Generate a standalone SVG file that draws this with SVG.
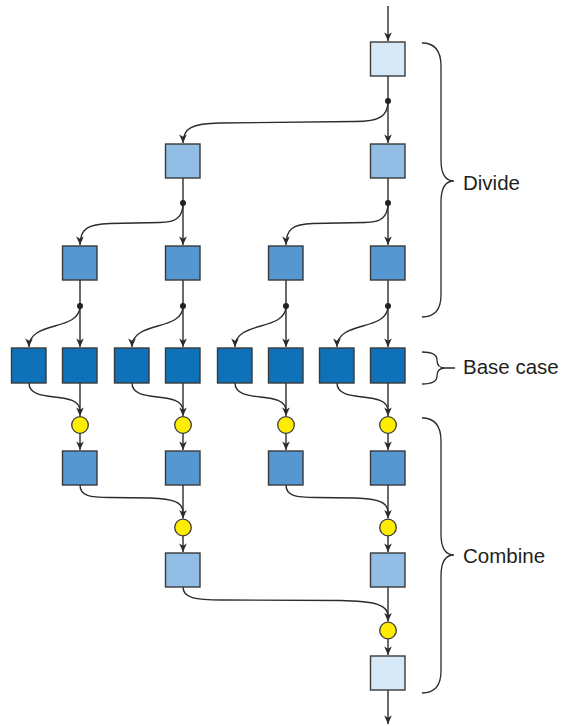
<svg xmlns="http://www.w3.org/2000/svg" width="562" height="726" viewBox="0 0 562 726">
<defs>
<marker id="ah" viewBox="-10 -5 11 10" refX="0" refY="0" markerWidth="11" markerHeight="10" markerUnits="userSpaceOnUse" orient="auto">
<path d="M0,0 L-8.5,-3.8 L-6.3,0 L-8.5,3.8 Z" fill="#2b2b2b"/>
</marker>
<style>
.box{stroke:#3a3a3a;stroke-width:1.4}
.l0{fill:#D7E8F6}
.l1{fill:#92BDE4}
.l2{fill:#5597D1}
.l3{fill:#0F72B9}
.join{fill:#FFED00;stroke:#3a3a3a;stroke-width:1.3}
.dot{fill:#222}
.c{fill:none;stroke:#2b2b2b;stroke-width:1.4}
.a{marker-end:url(#ah)}
.brace{fill:none;stroke:#2b2b2b;stroke-width:1.3}
.lbl{font-family:"Liberation Sans",Arial,sans-serif;font-size:20.5px;fill:#231f20}
</style>
</defs>
<rect width="562" height="726" fill="#fff"/>

<g id="connectors">
<path class="c a" d="M388,6 L388,41"/>
<path class="c a" d="M388,76 L388,143"/>
<path class="c a" d="M388,101 C388,116 380,121.5 355,121.5 L220,123 C192,123.5 183,128 183,143"/>
<path class="c a" d="M183,178 L183,245"/>
<path class="c a" d="M183,203 C183,217 176,222.5 160,222.5 L110,223.5 C88,224 80,229 80,245"/>
<path class="c a" d="M388,178 L388,245"/>
<path class="c a" d="M388,203 C388,217 381,222.5 365,222.5 L313,223.5 C293,224 286,229 286,245"/>
<path class="c a" d="M80,280 L80,347"/>
<path class="c a" d="M80,306 C80,332 29,320 29,347"/>
<path class="c a" d="M183,280 L183,347"/>
<path class="c a" d="M183,306 C183,332 132,320 132,347"/>
<path class="c a" d="M286,280 L286,347"/>
<path class="c a" d="M286,306 C286,332 235,320 235,347"/>
<path class="c a" d="M388,280 L388,347"/>
<path class="c a" d="M388,306 C388,332 337,320 337,347"/>
<path class="c a" d="M80,383 L80,416"/>
<path class="c" d="M29,383 C29,405 80,389 80,411"/>
<path class="c a" d="M183,383 L183,416"/>
<path class="c" d="M132,383 C132,405 183,389 183,411"/>
<path class="c a" d="M286,383 L286,416"/>
<path class="c" d="M235,383 C235,405 286,389 286,411"/>
<path class="c a" d="M388,383 L388,416"/>
<path class="c" d="M337,383 C337,405 388,389 388,411"/>
<path class="c a" d="M80,433.5 L80,450"/>
<path class="c a" d="M183,433.5 L183,450"/>
<path class="c a" d="M286,433.5 L286,450"/>
<path class="c a" d="M388,433.5 L388,450"/>
<path class="c a" d="M183,485 L183,518.5"/>
<path class="c" d="M80,485 C80,496 90,497.5 110,497.5 L150,498 C175,498.5 183,503 183,513"/>
<path class="c a" d="M388,485 L388,518.5"/>
<path class="c" d="M286,485 C286,496 296,497.5 316,497.5 L355,498 C380,498.5 388,503 388,513"/>
<path class="c a" d="M183,536 L183,552"/>
<path class="c a" d="M388,536 L388,552"/>
<path class="c a" d="M388,587 L388,621.5"/>
<path class="c" d="M183,587 C183,598 195,600 222,600 L340,600.5 C376,601 388,605 388,616"/>
<path class="c a" d="M388,639 L388,655"/>
<path class="c a" d="M388,690 L388,724"/>
</g>

<g id="n0"><rect class="box l0" x="370.5" y="42" width="34.5" height="34"/></g>
<g id="dot0"><circle class="dot" cx="388" cy="101" r="3"/></g>

<g id="n1a"><rect class="box l1" x="165.5" y="144" width="34.5" height="34"/></g>
<g id="n1b"><rect class="box l1" x="370.5" y="144" width="34.5" height="34"/></g>
<g id="dot1a"><circle class="dot" cx="183" cy="203" r="3"/></g>
<g id="dot1b"><circle class="dot" cx="388" cy="203" r="3"/></g>

<g id="n2a"><rect class="box l2" x="62.5" y="246" width="34.5" height="34"/></g>
<g id="n2b"><rect class="box l2" x="165.5" y="246" width="34.5" height="34"/></g>
<g id="n2c"><rect class="box l2" x="268.5" y="246" width="34.5" height="34"/></g>
<g id="n2d"><rect class="box l2" x="370.5" y="246" width="34.5" height="34"/></g>
<g id="dot2a"><circle class="dot" cx="80" cy="306" r="3"/></g>
<g id="dot2b"><circle class="dot" cx="183" cy="306" r="3"/></g>
<g id="dot2c"><circle class="dot" cx="286" cy="306" r="3"/></g>
<g id="dot2d"><circle class="dot" cx="388" cy="306" r="3"/></g>

<g id="b1"><rect class="box l3" x="11.5" y="348" width="34.5" height="35"/></g>
<g id="b2"><rect class="box l3" x="62.5" y="348" width="34.5" height="35"/></g>
<g id="b3"><rect class="box l3" x="114.5" y="348" width="34.5" height="35"/></g>
<g id="b4"><rect class="box l3" x="165.5" y="348" width="34.5" height="35"/></g>
<g id="b5"><rect class="box l3" x="217.5" y="348" width="34.5" height="35"/></g>
<g id="b6"><rect class="box l3" x="268.5" y="348" width="34.5" height="35"/></g>
<g id="b7"><rect class="box l3" x="319.5" y="348" width="34.5" height="35"/></g>
<g id="b8"><rect class="box l3" x="370.5" y="348" width="34.5" height="35"/></g>

<g id="j1a"><circle class="join" cx="80" cy="425" r="8.3"/></g>
<g id="j1b"><circle class="join" cx="183" cy="425" r="8.3"/></g>
<g id="j1c"><circle class="join" cx="286" cy="425" r="8.3"/></g>
<g id="j1d"><circle class="join" cx="388" cy="425" r="8.3"/></g>

<g id="c1a"><rect class="box l2" x="62.5" y="451" width="34.5" height="34"/></g>
<g id="c1b"><rect class="box l2" x="165.5" y="451" width="34.5" height="34"/></g>
<g id="c1c"><rect class="box l2" x="268.5" y="451" width="34.5" height="34"/></g>
<g id="c1d"><rect class="box l2" x="370.5" y="451" width="34.5" height="34"/></g>

<g id="j2a"><circle class="join" cx="183" cy="527.5" r="8.3"/></g>
<g id="j2b"><circle class="join" cx="388" cy="527.5" r="8.3"/></g>

<g id="c2a"><rect class="box l1" x="165.5" y="553" width="34.5" height="34"/></g>
<g id="c2b"><rect class="box l1" x="370.5" y="553" width="34.5" height="34"/></g>

<g id="j3"><circle class="join" cx="388" cy="630.5" r="8.3"/></g>

<g id="c3"><rect class="box l0" x="370.5" y="656" width="34.5" height="34"/></g>

<g id="divide">
<path class="brace" d="M422,43 C434,43 441,50 441,66 L441,160 C441,174 445,181 454,181 C445,181 441,188 441,202 L441,295 C441,310 434,317 422,317"/>
<text class="lbl" x="463" y="190">Divide</text>
</g>
<g id="basecase">
<path class="brace" d="M422,352 C432,352 437,355 437,360 C437,365 440,368 445,368 C440,368 437,371 437,376 C437,381 432,384 422,384 M445,368 L455,368"/>
<text class="lbl" x="463" y="374">Base case</text>
</g>
<g id="combine">
<path class="brace" d="M422,418 C434,418 441,425 441,441 L441,534 C441,548 445,555 454,555 C445,555 441,562 441,576 L441,671 C441,686 434,693 422,693"/>
<text class="lbl" x="463" y="563">Combine</text>
</g>
</svg>
